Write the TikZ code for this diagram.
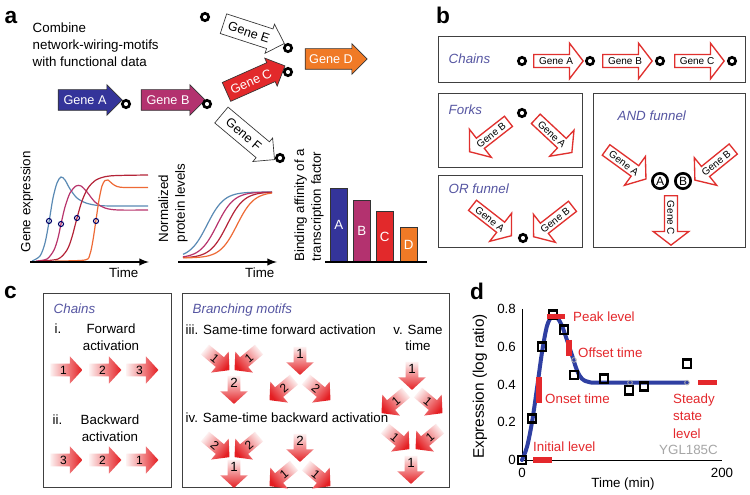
\documentclass[tikz,border=0pt]{standalone}
\usepackage{fontspec}
\setmainfont{Liberation Sans}
\usetikzlibrary{shapes.arrows, positioning}

\definecolor{geneA}{HTML}{34349A}
\definecolor{geneB}{HTML}{B3326F}
\definecolor{geneC}{HTML}{E2292B}
\definecolor{geneD}{HTML}{F07A26}
\definecolor{motifred}{HTML}{E0302E}
\definecolor{titleblue}{HTML}{5656A2}
\definecolor{cblue}{HTML}{5A8AB4}
\definecolor{cpurple}{HTML}{B8346C}
\definecolor{ccrim}{HTML}{B42438}
\definecolor{corange}{HTML}{EE6A36}
\definecolor{pulsered}{HTML}{E41E22}
\definecolor{pulsefade}{HTML}{FDF0F0}
\definecolor{fitblue}{HTML}{2F3FA2}
\definecolor{lvlred}{HTML}{E4282C}

\begin{document}
\begin{tikzpicture}[
    x=0.75pt, y=-0.75pt,
    font=\fontsize{10}{12.5}\selectfont,
    panel/.style={font=\fontsize{17}{17}\selectfont\bfseries},
    gene/.style={single arrow, draw=black!80, line width=0.5pt, single arrow head extend=3.75pt, minimum height=48pt, inner xsep=1pt, inner ysep=4pt, text height=7pt, text depth=0pt, font=\fontsize{9.5}{10}\selectfont},
    site/.style={circle, draw=black, fill=white, line width=2pt, minimum size=5.5pt, inner sep=0pt},
    gate/.style={circle, draw=black, fill=white, line width=2pt, minimum size=11.5pt, inner sep=0pt, font=\fontsize{9}{9}\selectfont},
    motif/.style={single arrow, draw=motifred, fill=white, line width=1pt, single arrow head extend=8.5pt, single arrow tip angle=105, minimum height=37pt, inner xsep=1pt, inner ysep=1.6pt, text height=5.5pt, text depth=0pt, font=\fontsize{7.5}{8}\selectfont},
    motiftitle/.style={anchor=west, text=titleblue, font=\fontsize{10}{12}\selectfont\itshape},
    box/.style={draw=black!75, line width=0.7pt},
    curve/.style={line width=0.9pt},
    halfpt/.style={circle, draw=black!60!blue, line width=0.8pt, minimum size=3.8pt, inner sep=0pt},
    taxis/.style={line width=1.5pt, -latex},
    pulse/.style={single arrow, draw=none, top color=pulsefade, bottom color=pulsered, single arrow head extend=5.5pt, single arrow tip angle=95, minimum height=24pt, inner xsep=1pt, inner ysep=1.4pt, text height=6.3pt, text depth=0pt, font=\fontsize{9}{9}\selectfont},
    pr/.style={pulse, shading angle=90},
    pdr/.style={pulse, rotate=-40, shading angle=50},
    pdl/.style={pulse, rotate=40, shape border rotate=180, shading angle=-50},
    pd/.style={pulse, rotate=-90, shading angle=0, minimum height=21pt},
    obs/.style={rectangle, draw=black, line width=1.9pt, minimum size=6.2pt, inner sep=0pt},
    fitdot/.style={circle, draw=gray!60, line width=0.6pt, minimum size=3.5pt, inner sep=0pt},
    lvl/.style={draw=lvlred, line width=3.8pt},
    note/.style={anchor=west, text=lvlred}
]
\path[use as bounding box, fill=white] (0,0) rectangle (750,495);

% Panel labels
\node[panel] (la) at (11,18) {a};
\node[panel] (lb) at (443,15) {b};
\node[panel] (lc) at (10.5,293) {c};
\node[panel] (ld) at (477,291) {d};

% a: network motifs
\node[anchor=north west, align=left, font=\fontsize{10}{12.75}\selectfont] (intro) at (28,18) {Combine\\network-wiring-motifs\\with functional data};
\node[gene, fill=geneA, text=white] (gA) at (85,100) {Gene A};
\node[site] (s1) at (126,104) {};
\node[gene, fill=geneB, text=white] (gB) at (168,100) {Gene B};
\node[site] (s2) at (207,104) {};
\node[gene, fill=geneC, text=white, rotate=24] (gC) at (251,81) {Gene C};
\node[site] (s0) at (205,17) {};
\node[gene, fill=white, rotate=-18] (gE) at (249,32) {Gene E};
\node[site] (s3) at (288,48) {};
\node[site] (s4) at (288,72) {};
\node[gene, fill=geneD, text=white, minimum height=46.5pt] (gD) at (331,59) {Gene D};
\node[gene, fill=white, rotate=-40, minimum height=52pt] (gF) at (244,134) {Gene F};
\node[site] (s5) at (280,158) {};

% a: expression curves
\coordinate (e0) at (30,262);
\coordinate (e1) at (149,262);
\draw[curve, cblue] plot[smooth] coordinates {(32,261) (40,256) (45,243) (49,222) (53,198) (57,183) (61,177) (65,180) (70,189) (77,198) (86,203) (98,205.5) (115,206) (148,206)};
\draw[curve, cpurple] plot[smooth] coordinates {(36,261) (47,259) (54,250) (58,238) (61,224) (65,207) (70,193) (76,186) (81,186) (87,192) (95,202) (105,208) (118,210) (148,210)};
\draw[curve, ccrim] plot[smooth] coordinates {(40,261) (58,259) (67,250) (72,237) (77,218) (82,201) (88,188) (96,180) (106,176.5) (118,175.5) (148,175)};
\draw[curve, corange] plot[smooth] coordinates {(55,261) (85,260) (90,254) (93,240) (96,220) (99,200) (102,186) (105,180.5) (108,180) (112,183.5) (117,186.5) (125,187.5) (148,187.5)};
\draw[taxis] (e0) -- (e1);
\node[halfpt] (h1) at (49,221) {};
\node[halfpt] (h2) at (61,224) {};
\node[halfpt] (h3) at (77,218) {};
\node[halfpt] (h4) at (96,221) {};
\node[anchor=east] (tA) at (143,273) {Time};
\node[rotate=90, anchor=west] (yA) at (27,257) {Gene expression};

% a: protein levels
\coordinate (p0) at (178,262);
\coordinate (p1) at (277,262);
\foreach \m/\c in {207/cblue, 217/cpurple, 227/ccrim, 237/corange}
  \draw[curve, \c] plot[domain=183:272, samples=60] (\x, {258-66/(1+exp(-(\x-\m)/8.5))});
\draw[taxis] (p0) -- (p1);
\node[anchor=east] (tB) at (279,273) {Time};
\node[rotate=90, anchor=west, align=left] (yB) at (173,247) {Normalized\\protein levels};

% a: binding affinity
\coordinate (q0) at (325,262);
\coordinate (q1) at (427,262);
\foreach \n/\x/\t/\c in {A/330/188/geneA, B/353/200/geneB, C/376/211/geneC, D/400/227/geneD} {
  \draw[fill=\c, draw=black!80, line width=0.6pt] (\x,262) rectangle ++(17.5,\t-262);
  \node[text=white] (bar\n) at (\x+8.75, {(262+\t)/2}) {\n};
}
\draw[line width=1.5pt] (q0) -- (q1);
\node[rotate=90, anchor=west, align=left] (yC) at (309,266) {Binding affinity of a\\transcription factor};

% b: motif catalogue
\draw[box] (438,36) rectangle (745,82);
\draw[box] (438,93) rectangle (582,167);
\draw[box] (438,175) rectangle (582,247);
\draw[box] (593,93) rectangle (745,247);

\node[motiftitle] (tChains) at (444,59) {Chains};
\node[site] (c0) at (522,61) {};
\node[motif] (cA) at (556,61) {Gene A};
\node[site] (c1) at (590,61) {};
\node[motif] (cB) at (625,61) {Gene B};
\node[site] (c2) at (660,61) {};
\node[motif] (cC) at (697,61) {Gene C};
\node[site] (c3) at (732,61) {};

\node[motiftitle] (tForks) at (444,110) {Forks};
\node[site] (f0) at (522,113) {};
\node[motif, rotate=38, shape border rotate=180] (fB) at (491,135) {Gene B};
\node[motif, rotate=-43] (fA) at (552,134) {Gene A};

\node[motiftitle] (tOr) at (444,189) {OR funnel};
\node[motif, rotate=-38] (oA) at (490,219) {Gene A};
\node[motif, rotate=38, shape border rotate=180] (oB) at (555,220) {Gene B};
\node[site] (o0) at (523,238) {};

\node[motiftitle] (tAnd) at (613,116) {AND funnel};
\node[motif, rotate=-36] (aA) at (624,163) {Gene A};
\node[motif, rotate=39, shape border rotate=180] (aB) at (716,163) {Gene B};
\node[gate] (gtA) at (660,181) {A};
\node[gate] (gtB) at (683,181) {B};
\node[motif, rotate=-90] (aC) at (671,218) {Gene C};

% c: activation order
\draw[box] (43,293) rectangle (171,487);
\draw[box] (182,293) rectangle (449,487);

\node[motiftitle] (tc1) at (49,309) {Chains};
\node[anchor=west] (ri) at (50,329) {i.};
\node[align=center] (rFwd) at (111,337) {Forward\\activation};
\node[pr] (fw1) at (63.5,370) {1};
\node[pr] (fw2) at (102.5,370) {2};
\node[pr] (fw3) at (139.5,370) {3};
\node[anchor=west] (rii) at (48,420) {ii.};
\node[align=center] (rBwd) at (110,428) {Backward\\activation};
\node[pr] (bw3) at (63.5,460) {3};
\node[pr] (bw2) at (102.5,460) {2};
\node[pr] (bw1) at (139.5,460) {1};

\node[motiftitle] (tc2) at (188,310) {Branching motifs};
\node[anchor=west] (riii) at (181,330) {iii. Same-time forward activation};
\node[anchor=west] (riv) at (181,418) {iv. Same-time backward activation};
\node[align=center] (rv) at (418,338) {v. Same\\time};

% iii
\node[pdr] (m1a) at (215,358) {1};
\node[pdl] (m1b) at (249,358) {1};
\node[pd] (m1c) at (234,387) {};
\node (m1n) at (234,383) {2};
\node[pd] (m2a) at (300,358) {};
\node (m2n) at (300,354) {1};
\node[pdl] (m2b) at (284,388) {2};
\node[pdr] (m2c) at (316,388) {2};
% iv
\node[pdr] (m3a) at (215,445) {2};
\node[pdl] (m3b) at (249,445) {2};
\node[pd] (m3c) at (234,471) {};
\node (m3n) at (234,467) {1};
\node[pd] (m4a) at (300,445) {};
\node (m4n) at (300,441) {2};
\node[pdl] (m4b) at (284,474) {1};
\node[pdr] (m4c) at (316,474) {1};
% v
\node[pd] (m5a) at (412,373) {};
\node (m5n) at (412,369) {1};
\node[pdl] (m5b) at (396,401) {1};
\node[pdr] (m5c) at (428,401) {1};
\node[pdr] (m6a) at (395,437) {1};
\node[pdl] (m6b) at (430,437) {1};
\node[pd] (m6c) at (411,467) {};
\node (m6n) at (411,463) {1};

% d: time course
\begin{scope}[shift={(522,460)}, x=0.75pt, y=141.5625pt]
  \coordinate (o) at (0,0);
  \coordinate (xe) at (200,0);
  \coordinate (ye) at (0,0.8);
  \draw[line width=0.6pt] (ye) -- (o) -- (xe);
  \foreach \v [count=\i] in {0,0.2,0.4,0.6,0.8}
    \node[anchor=east] (ty\i) at (-1.5,\v) {\v};
  \node (tx0) at (0,-0.07) {0};
  \node (tx1) at (200,-0.07) {200};
  \node (xlab) at (101,-0.125) {Time (min)};
  \node[rotate=90, font=\fontsize{11.5}{12}\selectfont] (ylab) at (-42,0.39) {Expression (log ratio)};

  \draw[fitblue, line width=3pt, line cap=round] plot[smooth, tension=0.55] coordinates {(0,0) (5,0.07) (10,0.2) (15,0.38) (20,0.57) (25,0.71) (30,0.76) (35,0.755) (40,0.71) (45,0.635) (50,0.555) (55,0.475) (60,0.43) (67,0.413) (80,0.41) (165,0.41)};
  \node[fitdot] (fd1) at (52,0.53) {};
  \node[fitdot] (fd2) at (108,0.41) {};
  \node[fitdot] (fd3) at (165,0.41) {};

  \foreach \t/\v [count=\i] in {0/0, 10/0.22, 20/0.6, 31/0.77, 42/0.69, 52/0.45, 82/0.43, 107/0.37, 122/0.39, 165/0.51}
    \node[obs] (ob\i) at (\t,\v) {};

  \draw[lvl] (25,0.758) -- (43,0.758);
  \draw[lvl] (47,0.636) -- (47,0.551);
  \draw[lvl] (17,0.44) -- (17,0.30);
  \draw[lvl] (11,0) -- (30,0);
  \draw[lvl] (176,0.41) -- (195,0.41);

  \node[note] (nPeak) at (46.5,0.758) {Peak level};
  \node[note] (nOff) at (51.5,0.567) {Offset time};
  \node[note] (nOn) at (18.5,0.323) {Onset time};
  \node[note] (nInit) at (6.5,0.069) {Initial level};
  \node[note, align=left, font=\fontsize{10}{13}\selectfont] (nSteady) at (146.5,0.233) {Steady\\state\\level};
  \node[anchor=east, text=gray!70] (nGene) at (200.5,0.053) {YGL185C};
\end{scope}

\end{tikzpicture}
\end{document}
